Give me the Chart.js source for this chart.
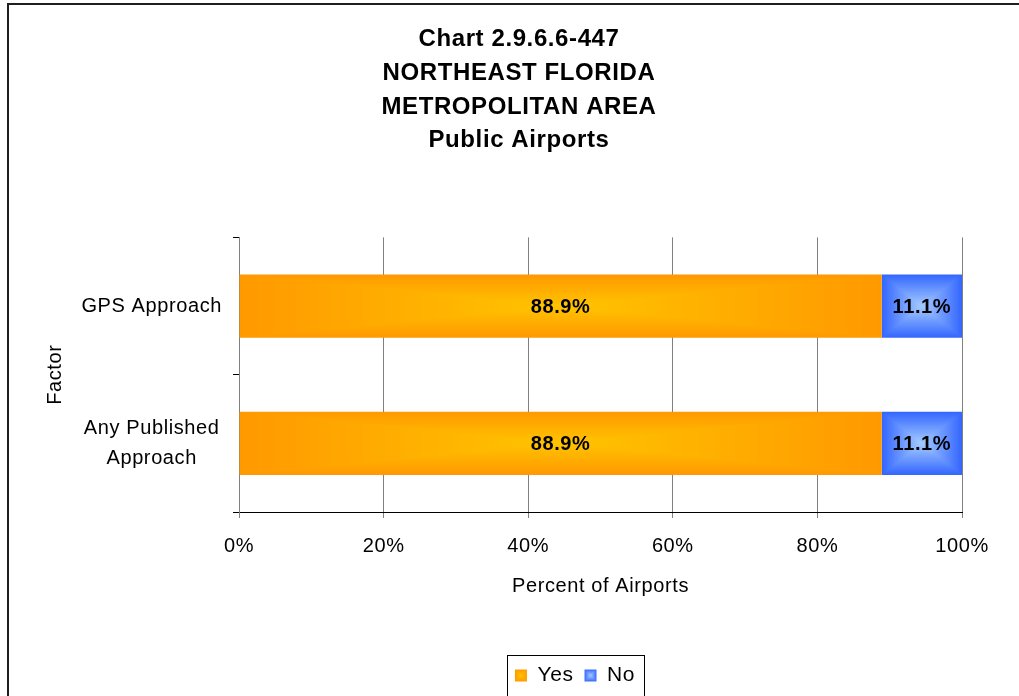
<!DOCTYPE html>
<html>
<head>
<meta charset="utf-8">
<title>Public Airports - Approach Factors</title>
<script src="https://cdn.jsdelivr.net/npm/chart.js@4.4.1/dist/chart.umd.min.js"></script>
<style>
  html, body { margin: 0; padding: 0; background: #ffffff; }
  #wrap { position: relative; width: 1019px; height: 696px; overflow: hidden; background: #ffffff; }
  #chart { position: absolute; left: 0; top: 0; }
  #frame {
    position: absolute; left: 7px; top: 3px; width: 1100px; height: 800px;
    border-left: 2px solid #1f1f1f; border-top: 2px solid #1f1f1f;
    pointer-events: none;
  }
</style>
</head>
<body>
<div id="wrap">
  <canvas id="chart" width="1019" height="696"></canvas>
  <div id="frame"></div>
</div>
<script>
// ---- chart data ----
const titleLines = ['Chart 2.9.6.6-447', 'NORTHEAST FLORIDA', 'METROPOLITAN AREA', 'Public Airports'];
const factors = ['GPS Approach', ['Any Published', 'Approach']];
const seriesNames = ['Yes', 'No'];
const yesShare = [88.9, 88.9];
const noShare = [11.1, 11.1];
const xTicks = [0, 20, 40, 60, 80, 100];

// ---- styling ----
const FONT = '"Liberation Sans", Arial, Helvetica, sans-serif';
const BAR_SHARE = 0.46;
const fills = [
  { inner: [255, 196, 0], outer: [255, 153, 0], solid: '#ffae00' },   // Yes
  { inner: [166, 204, 255], outer: [51, 102, 255], solid: '#6f97ff' }  // No
];

// Rectangular "from centre" gradient rendered into a small canvas.
const fillCache = new Map();
function centreFillCanvas(w, h, inner, outer) {
  const cw = Math.max(1, Math.round(w)), ch = Math.max(1, Math.round(h));
  const key = cw + 'x' + ch + ':' + inner.join(',') + ':' + outer.join(',');
  if (fillCache.has(key)) return fillCache.get(key);
  const cv = document.createElement('canvas');
  cv.width = cw; cv.height = ch;
  const g = cv.getContext('2d');
  const img = g.createImageData(cw, ch);
  const hw = cw / 2, hh = ch / 2;
  for (let py = 0; py < ch; py++) {
    for (let px = 0; px < cw; px++) {
      const dx = Math.abs(px + 0.5 - hw) / hw;
      const dy = Math.abs(py + 0.5 - hh) / hh;
      const t = Math.min(1, Math.max(dx, dy));
      const k = (py * cw + px) * 4;
      for (let c = 0; c < 3; c++) img.data[k + c] = Math.round(inner[c] + (outer[c] - inner[c]) * t);
      img.data[k + 3] = 255;
    }
  }
  g.putImageData(img, 0, 0);
  fillCache.set(key, cv);
  return cv;
}
function centreFill(ctx2d, left, top, w, h, spec) {
  const cv = centreFillCanvas(w, h, spec.inner, spec.outer);
  const pat = ctx2d.createPattern(cv, 'repeat');
  pat.setTransform(new DOMMatrix().translateSelf(left, top).scaleSelf(w / cv.width, h / cv.height));
  return pat;
}

// Bar fill computed from the scales, so each bar gets its own centred gradient.
function barFill(datasetIndex) {
  const spec = fills[datasetIndex];
  return (ctx) => {
    const chart = ctx.chart;
    const xs = chart.scales.x, ys = chart.scales.y;
    if (ctx.type !== 'data' || !xs || !ys || !chart.chartArea) return spec.solid;
    const i = ctx.dataIndex;
    let start = 0;
    for (let d = 0; d < datasetIndex; d++) start += chart.data.datasets[d].data[i];
    const end = start + chart.data.datasets[datasetIndex].data[i];
    const left = xs.getPixelForValue(start), right = xs.getPixelForValue(end);
    const band = (ys.bottom - ys.top) / chart.data.labels.length;
    const thick = band * BAR_SHARE;
    const top = ys.getPixelForValue(i) - thick / 2;
    return centreFill(chart.ctx, left, top, right - left, thick, spec);
  };
}

// ---- plugins ----
const spacing = {
  id: 'spacing',
  beforeUpdate(chart) { chart.ctx.letterSpacing = '0.6px'; },
  beforeDraw(chart) { chart.ctx.letterSpacing = '0.6px'; }
};

const placement = {
  id: 'placement',
  afterLayout(chart) {
    if (chart.titleBlock) { chart.titleBlock.left += 18; chart.titleBlock.right += 18; }
    if (chart.legend) { chart.legend.left += 74; chart.legend.right += 74; }
  }
};

const legendLook = {
  id: 'legendLook',
  beforeDraw(chart) {
    const lg = chart.legend;
    if (!lg || !lg.legendItems) return;
    const bw = lg.options.labels.boxWidth, bh = lg.options.labels.boxHeight;
    const fs = lg.options.labels.font.size;
    lg.legendItems.forEach((item, i) => {
      const hb = lg.legendHitBoxes[i];
      if (!hb) return;
      const top = hb.top + Math.max((fs - bh) / 2, 0);
      item.fillStyle = centreFill(chart.ctx, hb.left, top, bw, bh, fills[item.datasetIndex]);
    });
  },
  afterDraw(chart) {
    const lg = chart.legend;
    if (!lg || !lg.legendHitBoxes || !lg.legendHitBoxes.length) return;
    const hbs = lg.legendHitBoxes;
    const left = Math.min(...hbs.map(h => h.left)) - 8;
    const right = Math.max(...hbs.map(h => h.left + h.width)) + 9;
    const top = Math.min(...hbs.map(h => h.top)) - 10;
    const bottom = Math.max(...hbs.map(h => h.top + h.height)) + 12;
    const ctx = chart.ctx;
    ctx.save();
    ctx.strokeStyle = '#000';
    ctx.lineWidth = 1;
    ctx.strokeRect(Math.round(left) + 0.5, Math.round(top) + 0.5, Math.round(right - left), Math.round(bottom - top));
    ctx.restore();
  }
};

const valueLabels = {
  id: 'valueLabels',
  afterDatasetsDraw(chart) {
    const ctx = chart.ctx;
    ctx.save();
    ctx.font = 'bold 20px ' + FONT;
    ctx.fillStyle = '#000';
    ctx.textAlign = 'center';
    ctx.textBaseline = 'middle';
    chart.data.datasets.forEach((ds, d) => {
      chart.getDatasetMeta(d).data.forEach((el, i) => {
        const p = el.getCenterPoint();
        ctx.fillText(ds.data[i].toFixed(1) + '%', p.x, p.y + 1);
      });
    });
    ctx.restore();
  }
};

// ---- chart ----
Chart.defaults.font.family = FONT;
Chart.defaults.font.size = 20;
Chart.defaults.color = '#000';

new Chart(document.getElementById('chart'), {
  type: 'bar',
  data: {
    labels: factors,
    datasets: [
      { label: seriesNames[0], data: yesShare, backgroundColor: barFill(0), borderWidth: 0 },
      { label: seriesNames[1], data: noShare, backgroundColor: barFill(1), borderWidth: 0 }
    ]
  },
  options: {
    indexAxis: 'y',
    responsive: false,
    animation: false,
    devicePixelRatio: 1,
    datasets: { bar: { barPercentage: BAR_SHARE, categoryPercentage: 1 } },
    layout: { padding: { left: 40, right: 57, top: 0, bottom: 0 } },
    scales: {
      x: {
        type: 'linear', min: 0, max: 100, stacked: true,
        grid: { color: '#808080', lineWidth: 1, drawTicks: true, tickLength: 6, tickColor: '#808080' },
        border: { display: true, color: '#000', width: 1 },
        ticks: { padding: 16, maxRotation: 0, callback: (v) => v + '%' },
        afterBuildTicks: (s) => { s.ticks = xTicks.map(v => ({ value: v })); },
        title: { display: true, text: 'Percent of Airports', padding: { top: 0, bottom: 56 } },
        afterFit: (s) => { s.height = 142; }
      },
      y: {
        type: 'category', stacked: true, position: 'left', z: 1,
        grid: { display: true, drawOnChartArea: false, drawTicks: true, tickLength: 6, color: '#000', offset: true },
        border: { display: true, color: '#808080', width: 1 },
        ticks: { crossAlign: 'center', padding: 11, font: { size: 20, lineHeight: 1.5 } },
        title: { display: true, text: 'Factor', font: { size: 20 }, padding: { top: 3, bottom: 0 } },
        afterFit: (s) => { s.width = 199; }
      }
    },
    plugins: {
      title: {
        display: true, text: titleLines, color: '#000',
        font: { size: 24, weight: 'bold', lineHeight: 1.4 },
        padding: { top: 23, bottom: 80 }
      },
      legend: {
        position: 'bottom',
        labels: {
          boxWidth: 12, boxHeight: 12, padding: 11,
          font: { size: 21 },
          generateLabels: (chart) => chart.data.datasets.map((ds, i) => ({
            text: ds.label, fillStyle: fills[i].solid, strokeStyle: 'rgba(0,0,0,0)',
            lineWidth: 0, hidden: false, datasetIndex: i
          }))
        }
      },
      tooltip: { enabled: false }
    }
  },
  plugins: [spacing, placement, legendLook, valueLabels]
});
</script>
</body>
</html>
